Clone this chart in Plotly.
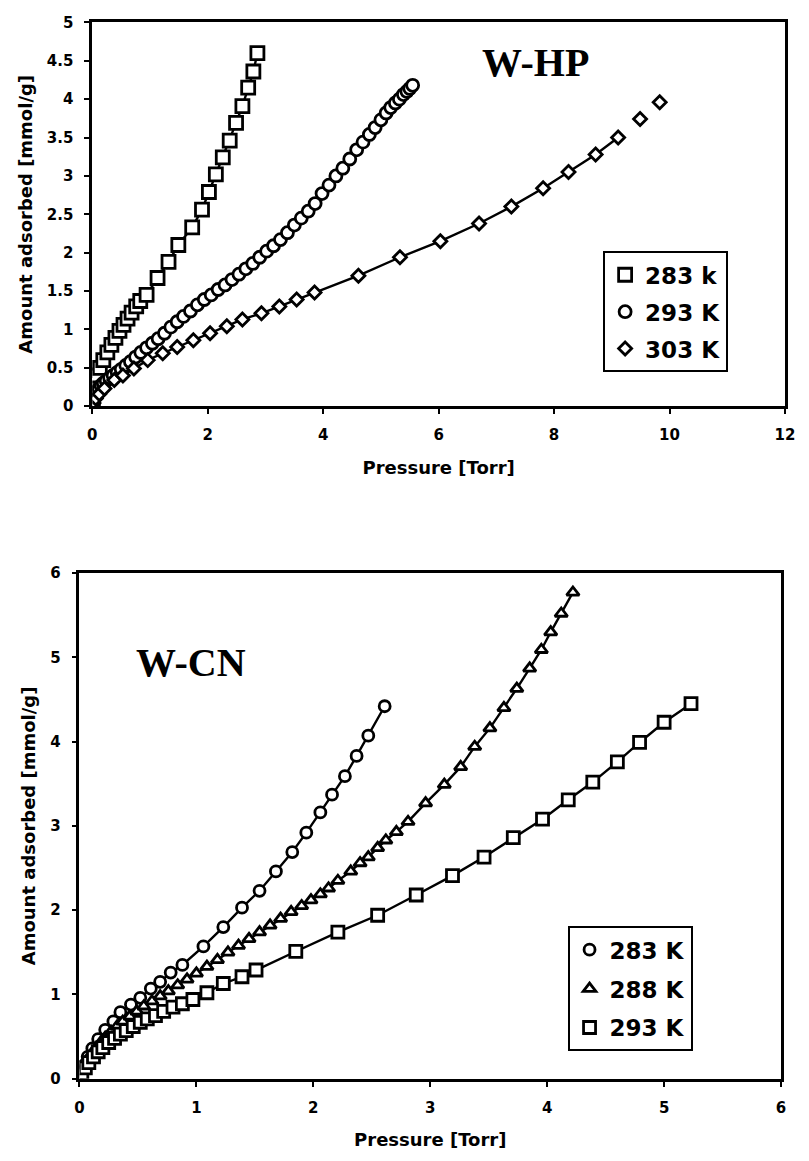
import plotly.graph_objects as go

# ---- W-HP isotherms (pressure in Torr, amount adsorbed in mmol/g) ----
p_hp_283 = [0.01, 0.03, 0.05, 0.08, 0.13, 0.19, 0.26, 0.33, 0.40, 0.47, 0.54, 0.61,
            0.68, 0.76, 0.83, 0.94, 1.13, 1.32, 1.49, 1.73, 1.90, 2.02, 2.14, 2.26,
            2.38, 2.49, 2.60, 2.70, 2.79, 2.86]
a_hp_283 = [0.08, 0.20, 0.30, 0.40, 0.50, 0.60, 0.70, 0.80, 0.89, 0.98, 1.06, 1.14,
            1.22, 1.30, 1.37, 1.45, 1.67, 1.88, 2.10, 2.33, 2.56, 2.79, 3.02, 3.24,
            3.46, 3.69, 3.91, 4.15, 4.36, 4.60]

p_hp_293 = [0.01, 0.03, 0.05, 0.08, 0.11, 0.15, 0.19, 0.24, 0.30, 0.36, 0.43, 0.50,
            0.58, 0.66, 0.75, 0.84, 0.94, 1.04, 1.14, 1.25, 1.36, 1.47, 1.58, 1.70,
            1.82, 1.94, 2.06, 2.18, 2.30, 2.42, 2.54, 2.66, 2.78, 2.90, 3.02, 3.14,
            3.26, 3.38, 3.50, 3.62, 3.74, 3.86, 3.98, 4.10, 4.22, 4.34, 4.46, 4.58,
            4.69, 4.80, 4.90, 5.00, 5.09, 5.17, 5.25, 5.32, 5.39, 5.45, 5.50, 5.55]
a_hp_293 = [0.05, 0.10, 0.15, 0.19, 0.23, 0.27, 0.30, 0.33, 0.37, 0.40, 0.44, 0.48,
            0.53, 0.58, 0.64, 0.70, 0.76, 0.82, 0.88, 0.95, 1.03, 1.10, 1.17, 1.24,
            1.32, 1.39, 1.45, 1.52, 1.58, 1.65, 1.72, 1.79, 1.86, 1.94, 2.02, 2.09,
            2.17, 2.26, 2.36, 2.45, 2.54, 2.64, 2.77, 2.88, 3.00, 3.10, 3.22, 3.34,
            3.44, 3.54, 3.63, 3.73, 3.82, 3.89, 3.95, 4.00, 4.06, 4.10, 4.14, 4.18]

p_hp_303 = [0.02, 0.06, 0.12, 0.21, 0.38, 0.53, 0.72, 0.96, 1.22, 1.47, 1.75, 2.04,
            2.33, 2.60, 2.93, 3.24, 3.54, 3.85, 4.61, 5.33, 6.03, 6.70, 7.26, 7.81,
            8.25, 8.72, 9.11, 9.49, 9.83]
a_hp_303 = [0.04, 0.10, 0.16, 0.23, 0.34, 0.40, 0.49, 0.60, 0.69, 0.77, 0.86, 0.95,
            1.04, 1.13, 1.21, 1.30, 1.39, 1.48, 1.70, 1.94, 2.15, 2.38, 2.60, 2.84,
            3.05, 3.28, 3.50, 3.74, 3.96]
hp_303_joined = 27  # the last two 303 K points are not joined by the line

# ---- W-CN isotherms ----
p_cn_283 = [0.02, 0.04, 0.07, 0.11, 0.16, 0.22, 0.29, 0.35, 0.44, 0.52, 0.61, 0.69,
            0.78, 0.88, 1.06, 1.23, 1.39, 1.54, 1.68, 1.82, 1.94, 2.06, 2.16, 2.27,
            2.37, 2.47, 2.61]
a_cn_283 = [0.08, 0.16, 0.26, 0.36, 0.47, 0.58, 0.68, 0.79, 0.88, 0.96, 1.07, 1.15,
            1.26, 1.35, 1.57, 1.80, 2.03, 2.23, 2.46, 2.69, 2.92, 3.16, 3.37, 3.59,
            3.83, 4.07, 4.42]

p_cn_288 = [0.02, 0.04, 0.07, 0.10, 0.14, 0.18, 0.22, 0.27, 0.32, 0.37, 0.43, 0.49,
            0.55, 0.62, 0.69, 0.76, 0.84, 0.92, 1.00, 1.09, 1.18, 1.27, 1.36, 1.45,
            1.54, 1.63, 1.72, 1.81, 1.90, 1.98, 2.06, 2.13, 2.21, 2.32, 2.40, 2.47,
            2.55, 2.62, 2.71, 2.81, 2.96, 3.12, 3.26, 3.38, 3.51, 3.63, 3.74, 3.85,
            3.95, 4.03, 4.12, 4.22]
a_cn_288 = [0.08, 0.15, 0.22, 0.29, 0.36, 0.43, 0.49, 0.56, 0.62, 0.68, 0.74, 0.80,
            0.86, 0.92, 0.98, 1.04, 1.11, 1.18, 1.25, 1.33, 1.41, 1.50, 1.58, 1.66,
            1.74, 1.82, 1.90, 1.98, 2.05, 2.12, 2.19, 2.26, 2.35, 2.46, 2.56, 2.63,
            2.74, 2.83, 2.93, 3.05, 3.27, 3.49, 3.70, 3.94, 4.16, 4.40, 4.63, 4.87,
            5.09, 5.30, 5.52, 5.77]

p_cn_293 = [0.02, 0.05, 0.08, 0.12, 0.16, 0.20, 0.25, 0.30, 0.35, 0.40, 0.46, 0.52,
            0.58, 0.65, 0.72, 0.80, 0.88, 0.97, 1.09, 1.23, 1.39, 1.51, 1.85, 2.21,
            2.55, 2.88, 3.19, 3.46, 3.71, 3.96, 4.18, 4.39, 4.60, 4.79, 5.00, 5.23]
a_cn_293 = [0.06, 0.13, 0.19, 0.26, 0.32, 0.37, 0.43, 0.48, 0.53, 0.57, 0.62, 0.67,
            0.71, 0.75, 0.80, 0.85, 0.89, 0.94, 1.02, 1.13, 1.21, 1.29, 1.51, 1.74,
            1.94, 2.18, 2.41, 2.63, 2.86, 3.08, 3.31, 3.52, 3.76, 3.99, 4.23, 4.45]

BOLD = dict(family="DejaVu Sans", color="black", weight="bold")

fig = go.Figure()


def add_isotherm(px, py, name, symbol, size, xa, ya, legend, joined=None):
    n = len(px) if joined is None else joined
    fig.add_trace(go.Scatter(
        x=px[:n], y=py[:n], mode="lines", xaxis=xa, yaxis=ya,
        line=dict(color="black", width=2.4), showlegend=False, hoverinfo="skip"))
    fig.add_trace(go.Scatter(
        x=px, y=py, mode="markers", name=name, xaxis=xa, yaxis=ya,
        legend=legend, legendgroup=name + xa,
        marker=dict(symbol=symbol, size=size, color="white",
                    line=dict(color="black", width=2.8))))


add_isotherm(p_hp_283, a_hp_283, "283 k", "square", 13, "x", "y", "legend")
add_isotherm(p_hp_293, a_hp_293, "293 K", "circle", 12, "x", "y", "legend")
add_isotherm(p_hp_303, a_hp_303, "303 K", "diamond", 10, "x", "y", "legend",
             joined=hp_303_joined)

add_isotherm(p_cn_283, a_cn_283, "283 K", "circle", 11, "x2", "y2", "legend2")
add_isotherm(p_cn_288, a_cn_288, "288 K", "triangle-up", 11, "x2", "y2", "legend2")
add_isotherm(p_cn_293, a_cn_293, "293 K", "square", 12, "x2", "y2", "legend2")

axis_common = dict(
    showline=True, linecolor="black", linewidth=2.8, mirror=True,
    ticks="outside", ticklen=5, tickwidth=2, tickcolor="black",
    showgrid=False, zeroline=False, ticklabelstandoff=8,
    tickfont=dict(size=15, **BOLD),
)

fig.update_layout(
    width=809, height=1161,
    margin=dict(l=0, r=0, t=0, b=0),
    paper_bgcolor="white", plot_bgcolor="white",
    xaxis=dict(domain=[0.1100, 0.9823], range=[0, 12], dtick=2, anchor="y",
               title=dict(text="Pressure [Torr]", font=dict(size=18, **BOLD), standoff=19),
               **axis_common),
    yaxis=dict(domain=[0.6525, 0.9883], range=[0, 5], dtick=0.5, anchor="x",
               title=dict(text="Amount adsorbed [mmol/g]", font=dict(size=18, **BOLD),
                          standoff=10),
               **axis_common),
    xaxis2=dict(domain=[0.0938, 0.9774], range=[0, 6], dtick=1, anchor="y2",
                title=dict(text="Pressure [Torr]", font=dict(size=18, **BOLD), standoff=18),
                **axis_common),
    yaxis2=dict(domain=[0.0641, 0.5065], range=[0, 6], dtick=1, anchor="x2",
                title=dict(text="Amount adsorbed [mmol/g]", font=dict(size=18, **BOLD),
                           standoff=10),
                **axis_common),
    legend=dict(x=0.7533, y=0.7880, xanchor="left", yanchor="top",
                bgcolor="white", bordercolor="black", borderwidth=2,
                font=dict(size=23, **BOLD), tracegroupgap=4),
    legend2=dict(x=0.7085, y=0.1975, xanchor="left", yanchor="top",
                 bgcolor="white", bordercolor="black", borderwidth=2,
                 font=dict(size=23, **BOLD), tracegroupgap=6),
    annotations=[
        dict(text="W-HP", x=0.6687, y=0.9528, xref="paper", yref="paper",
             showarrow=False, xanchor="center", yanchor="middle",
             font=dict(family="Liberation Serif", size=40, color="black",
                       weight="bold")),
        dict(text="W-CN", x=0.2345, y=0.4282, xref="paper", yref="paper",
             showarrow=False, xanchor="center", yanchor="middle",
             font=dict(family="Liberation Serif", size=40, color="black",
                       weight="bold")),
    ],
)

fig.write_html("out.html")
